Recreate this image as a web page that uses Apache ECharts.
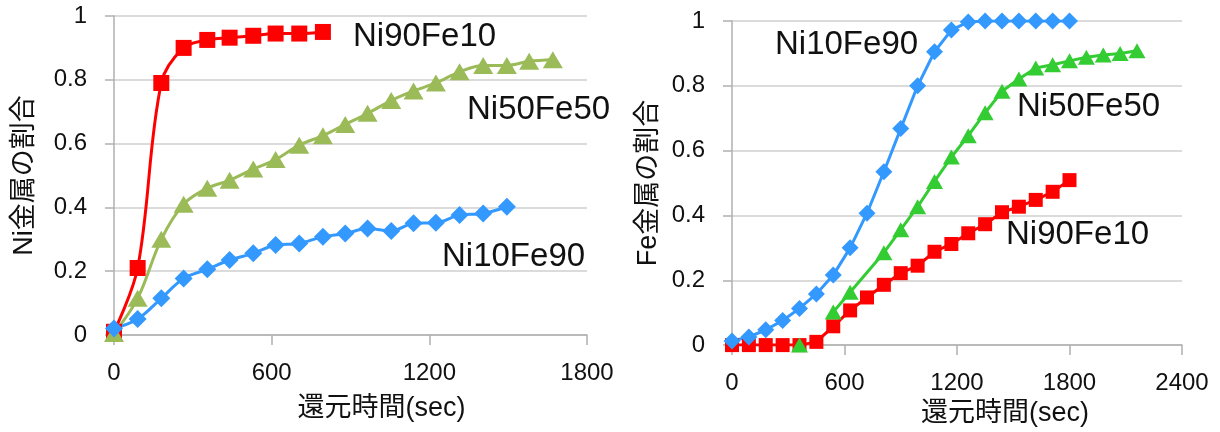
<!DOCTYPE html>
<html><head><meta charset="utf-8">
<script src="https://cdn.jsdelivr.net/npm/echarts@6/dist/echarts.min.js"></script>
<style>html,body{margin:0;padding:0;background:#fff}#c{width:1220px;height:432px}</style>
</head><body><div id="c"></div>
<script>
// ---- Left chart data (Ni fraction) ----
var leftTime = [0, 90, 180, 265, 355, 440, 530, 615, 705, 795, 880, 965, 1055, 1140, 1225, 1315, 1405, 1495, 1580, 1670];
var leftNi90Fe10 = [0.01, 0.21, 0.79, 0.90, 0.925, 0.932, 0.938, 0.945, 0.945, 0.95];
var leftNi50Fe50 = [0.005, 0.115, 0.30, 0.41, 0.46, 0.485, 0.52, 0.55, 0.595, 0.625, 0.66, 0.695, 0.735, 0.765, 0.79, 0.825, 0.845, 0.845, 0.858, 0.863];
var leftNi10Fe90 = [0.02, 0.05, 0.115, 0.177, 0.206, 0.235, 0.256, 0.282, 0.287, 0.308, 0.318, 0.334, 0.326, 0.35, 0.352, 0.376, 0.381, 0.402];
// ---- Right chart data (Fe fraction) ----
var rightTime = [0, 90, 180, 270, 360, 450, 540, 630, 720, 810, 900, 990, 1080, 1170, 1260, 1350, 1440, 1530, 1620, 1710, 1800];
var rightNi10Fe90 = [0.013, 0.025, 0.047, 0.076, 0.113, 0.158, 0.216, 0.30, 0.407, 0.535, 0.668, 0.80, 0.905, 0.972, 0.997, 1, 1, 1, 1, 1, 1];
var rightNi90Fe10 = [0, 0, 0, 0, 0, 0.01, 0.058, 0.107, 0.147, 0.186, 0.222, 0.245, 0.288, 0.312, 0.345, 0.373, 0.41, 0.427, 0.448, 0.473, 0.509];
var rightTimeNi50Fe50 = [360, 450, 540, 630, 810, 900, 990, 1080, 1170, 1260, 1350, 1440, 1530, 1620, 1710, 1800, 1890, 1980, 2070, 2160];
var rightNi50Fe50 = [0, null, 0.102, 0.163, 0.285, 0.356, 0.427, 0.505, 0.58, 0.646, 0.717, 0.783, 0.821, 0.855, 0.865, 0.877, 0.888, 0.895, 0.90, 0.908];
// ---- Tick / text ----
var leftXTicks = {min: 0, max: 1800, interval: 600};
var rightXTicks = {min: 0, max: 2400, interval: 600};
var yTicks = {min: 0, max: 1, interval: 0.2};
var leftYName = 'Ni金属の割合';
var rightYName = 'Fe金属の割合';
var xName = '還元時間(sec)';
var names = ['Ni90Fe10', 'Ni50Fe50', 'Ni10Fe90'];

function pairs(xs, ys) {
  var out = [];
  for (var i = 0; i < ys.length; i++) out.push([xs[i], ys[i] === null ? '-' : ys[i]]);
  return out;
}

var FONT = '"Liberation Sans", "Noto Sans CJK JP", sans-serif';
var RED = '#ff0000', BLUE = '#3399ff', OLIVE = '#9bbb59', GREEN = '#33cc33';

function xAxis(idx, t, padLeft) {
  return {
    type: 'value', gridIndex: idx, min: t.min, max: t.max, interval: t.interval,
    name: xName, nameLocation: 'middle', nameGap: idx === 0 ? 60 : 52,
    nameTextStyle: {fontFamily: FONT, fontSize: 27, color: '#111', padding: [0, 0, 0, padLeft]},
    axisLine: {show: true, onZero: false, lineStyle: {color: '#b0b0b0', width: 1.5}},
    axisTick: {show: true, length: 10, lineStyle: {color: '#b0b0b0', width: 1.5}},
    axisLabel: {fontFamily: FONT, fontSize: 24, color: '#111', margin: 26,
      formatter: function (v) { return String(v); }},
    splitLine: {show: false}
  };
}
function yAxis(idx, name, gap) {
  return {
    type: 'value', gridIndex: idx, min: yTicks.min, max: yTicks.max, interval: yTicks.interval,
    name: name, nameLocation: 'middle', nameGap: gap, nameRotate: 90,
    nameTextStyle: {fontFamily: FONT, fontSize: 27, color: '#111'},
    axisLine: {show: true, lineStyle: {color: '#b0b0b0', width: 1.5}},
    axisTick: {show: true, length: 9, lineStyle: {color: '#b0b0b0', width: 1.5}},
    axisLabel: {fontFamily: FONT, fontSize: 24, color: '#111', margin: 27},
    splitLine: {show: true, lineStyle: {color: '#cfcfcf', width: 1.5}}
  };
}
function line(name, idx, data, color, symbol, size, smooth) {
  return {
    name: name, type: 'line', xAxisIndex: idx, yAxisIndex: idx, data: data,
    smooth: smooth, connectNulls: false,
    symbol: symbol, symbolSize: size, showSymbol: true,
    lineStyle: {color: color, width: 3},
    itemStyle: {color: color, borderWidth: 0},
    animation: false, z: 2
  };
}
function label(text, x, y) {
  return {type: 'text', left: x, top: y,
    style: {text: text, fontFamily: FONT, fontSize: 33, fill: '#111'}};
}

var chart = echarts.init(document.getElementById('c'), null, {renderer: 'canvas'});
chart.setOption({
  animation: false,
  backgroundColor: '#fff',
  grid: [
    {left: 114, top: 16, width: 473, height: 319},
    {left: 732, top: 21, width: 450, height: 327}
  ],
  xAxis: [xAxis(0, leftXTicks, 62), xAxis(1, rightXTicks, 96)],
  yAxis: [yAxis(0, leftYName, 76), yAxis(1, rightYName, 70)],
  series: [
    line(names[0], 0, pairs(leftTime, leftNi90Fe10), RED, 'rect', 16, 0.35),
    line(names[1], 0, pairs(leftTime, leftNi50Fe50), OLIVE, 'triangle', [20, 17], 0.35),
    line(names[2], 0, pairs(leftTime, leftNi10Fe90), BLUE, 'diamond', 18, 0.35),
    line(names[0], 1, pairs(rightTime, rightNi90Fe10), RED, 'rect', 14, false),
    line(names[1], 1, pairs(rightTimeNi50Fe50, rightNi50Fe50), GREEN, 'triangle', [17, 15], false),
    line(names[2], 1, pairs(rightTime, rightNi10Fe90), BLUE, 'diamond', 17, false)
  ],
  graphic: [
    label('Ni90Fe10', 353, 20),
    label('Ni50Fe50', 467, 93),
    label('Ni10Fe90', 442, 240),
    label('Ni10Fe90', 775, 28),
    label('Ni50Fe50', 1017, 90),
    label('Ni90Fe10', 1006, 218)
  ]
});
</script></body></html>
